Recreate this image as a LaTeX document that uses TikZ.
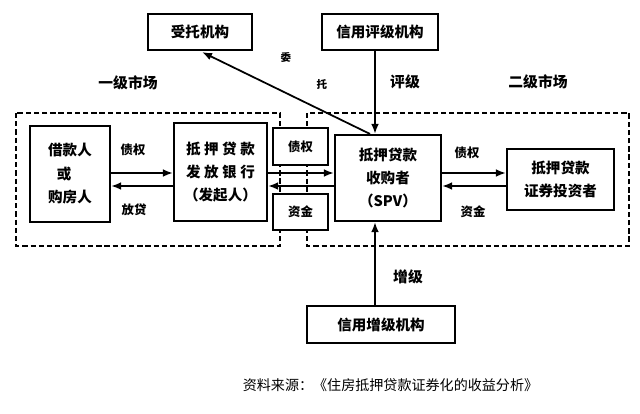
\documentclass[tikz,border=0pt]{standalone}
\usepackage{fontspec}
\setmainfont{Noto Sans CJK SC}
\usetikzlibrary{
  arrows.meta,  % 实心箭头
  calc          % 坐标偏移
}
\newcommand\jg{\hspace{3pt}}

\begin{document}
\begin{tikzpicture}[x=0.03cm, y=-0.03cm, >={Latex[length=8.5pt,width=6.5pt]}, line width=1.5pt,
  box/.style={draw, line width=1.8pt, fill=white, align=center, inner sep=0pt,
    font=\bfseries\fontsize{12.4}{20}\selectfont},
  smallbox/.style={box, line width=1.4pt, font=\bfseries\fontsize{10.6}{12}\selectfont},
  mkt/.style={line width=1.8pt, dash pattern=on 4.5pt off 2.5pt},
  lbl/.style={font=\bfseries\fontsize{10.6}{12}\selectfont},
  biglbl/.style={font=\bfseries\fontsize{12.6}{14}\selectfont}]

  \useasboundingbox (0,0) rectangle (640,413);

  % =========== 一级、二级市场虚线框 ===========
  \draw[mkt] (16,113) rectangle (280,246);
  \draw[mkt] (307,113) rectangle (629,246);
  \node[biglbl] (m1) at (128,83) {一级市场};
  \node[biglbl] (m2) at (538,82) {二级市场};

  % =========== 主要机构 ===========
  \node[box, minimum width=3.12cm, minimum height=1.08cm] (trust) at (200,32) {受托机构};
  \node[box, minimum width=3.48cm, minimum height=1.08cm] (rating) at (380,32) {信用评级机构};
  \node[box, minimum width=2.4cm, minimum height=2.88cm, align=left] (brw) at (70,174)
    {借款人\\\hspace*{0.6em}或\\购房人};
  \node[box, minimum width=2.79cm, minimum height=2.94cm] (bank) at (220.5,172)
    {抵\jg 押\jg 贷\jg 款\\发\jg 放\jg 银\jg 行\\（发起人）};
  \node[box, minimum width=3.18cm, minimum height=2.58cm] (spv) at (388,178)
    {抵押贷款\\收购者\\（SPV）};
  \node[box, minimum width=3.21cm, minimum height=1.83cm] (inv) at (560.5,179.5)
    {抵押贷款\\证券投资者};
  \node[box, minimum width=4.44cm, minimum height=1.11cm] (enh) at (381,324.5) {信用增级机构};

  % 过渡区的小框
  \node[smallbox, minimum width=1.65cm, minimum height=1.11cm] (zq) at (300.5,146.5) {债权};
  \node[smallbox, minimum width=1.65cm, minimum height=1.08cm] (zj) at (300.5,212) {资金};

  % =========== 箭头 ===========
  \coordinate (up) at (0,173);
  \coordinate (dn) at (0,186);
  \coordinate (vx) at (375,0);

  \draw[->] (brw.east |- up) -- (bank.west |- up);
  \draw[->] (bank.west |- dn) -- (brw.east |- dn);
  \draw[->] (bank.east |- up) -- (spv.west |- up);
  \draw[->] (spv.west |- dn) -- (bank.east |- dn);
  \draw[->] (spv.east |- up) -- (inv.west |- up);
  \draw[->] (inv.west |- dn) -- (spv.east |- dn);

  \draw[->] (rating.south -| vx) -- (spv.north -| vx);
  \draw[->] (enh.north -| vx) -- (spv.south -| vx);
  \draw[->] ($(spv.north)+(-18,0)$) -- ($(trust.south)+(2,1)$);

  % =========== 箭头文字 ===========
  \node[lbl] (l1) at (133,150) {债权};
  \node[lbl] (l2) at (134,210) {放贷};
  \node[lbl] (l3) at (467,153) {债权};
  \node[lbl] (l4) at (473,212) {资金};
  \node[biglbl] (l5) at (405,82) {评级};
  \node[biglbl] (l6) at (408,277) {增级};
  \node[font=\bfseries\fontsize{9}{10}\selectfont] (l7) at (286,57) {委};
  \node[font=\bfseries\fontsize{9}{10}\selectfont] (l8) at (322,84) {托};

  % =========== 资料来源 ===========
  \node[anchor=west, font=\fontsize{12}{14}\selectfont, inner sep=0pt] (src) at (242,385)
    {资料来源：《住房抵押贷款证券化的收益分析》};

\end{tikzpicture}
\end{document}
